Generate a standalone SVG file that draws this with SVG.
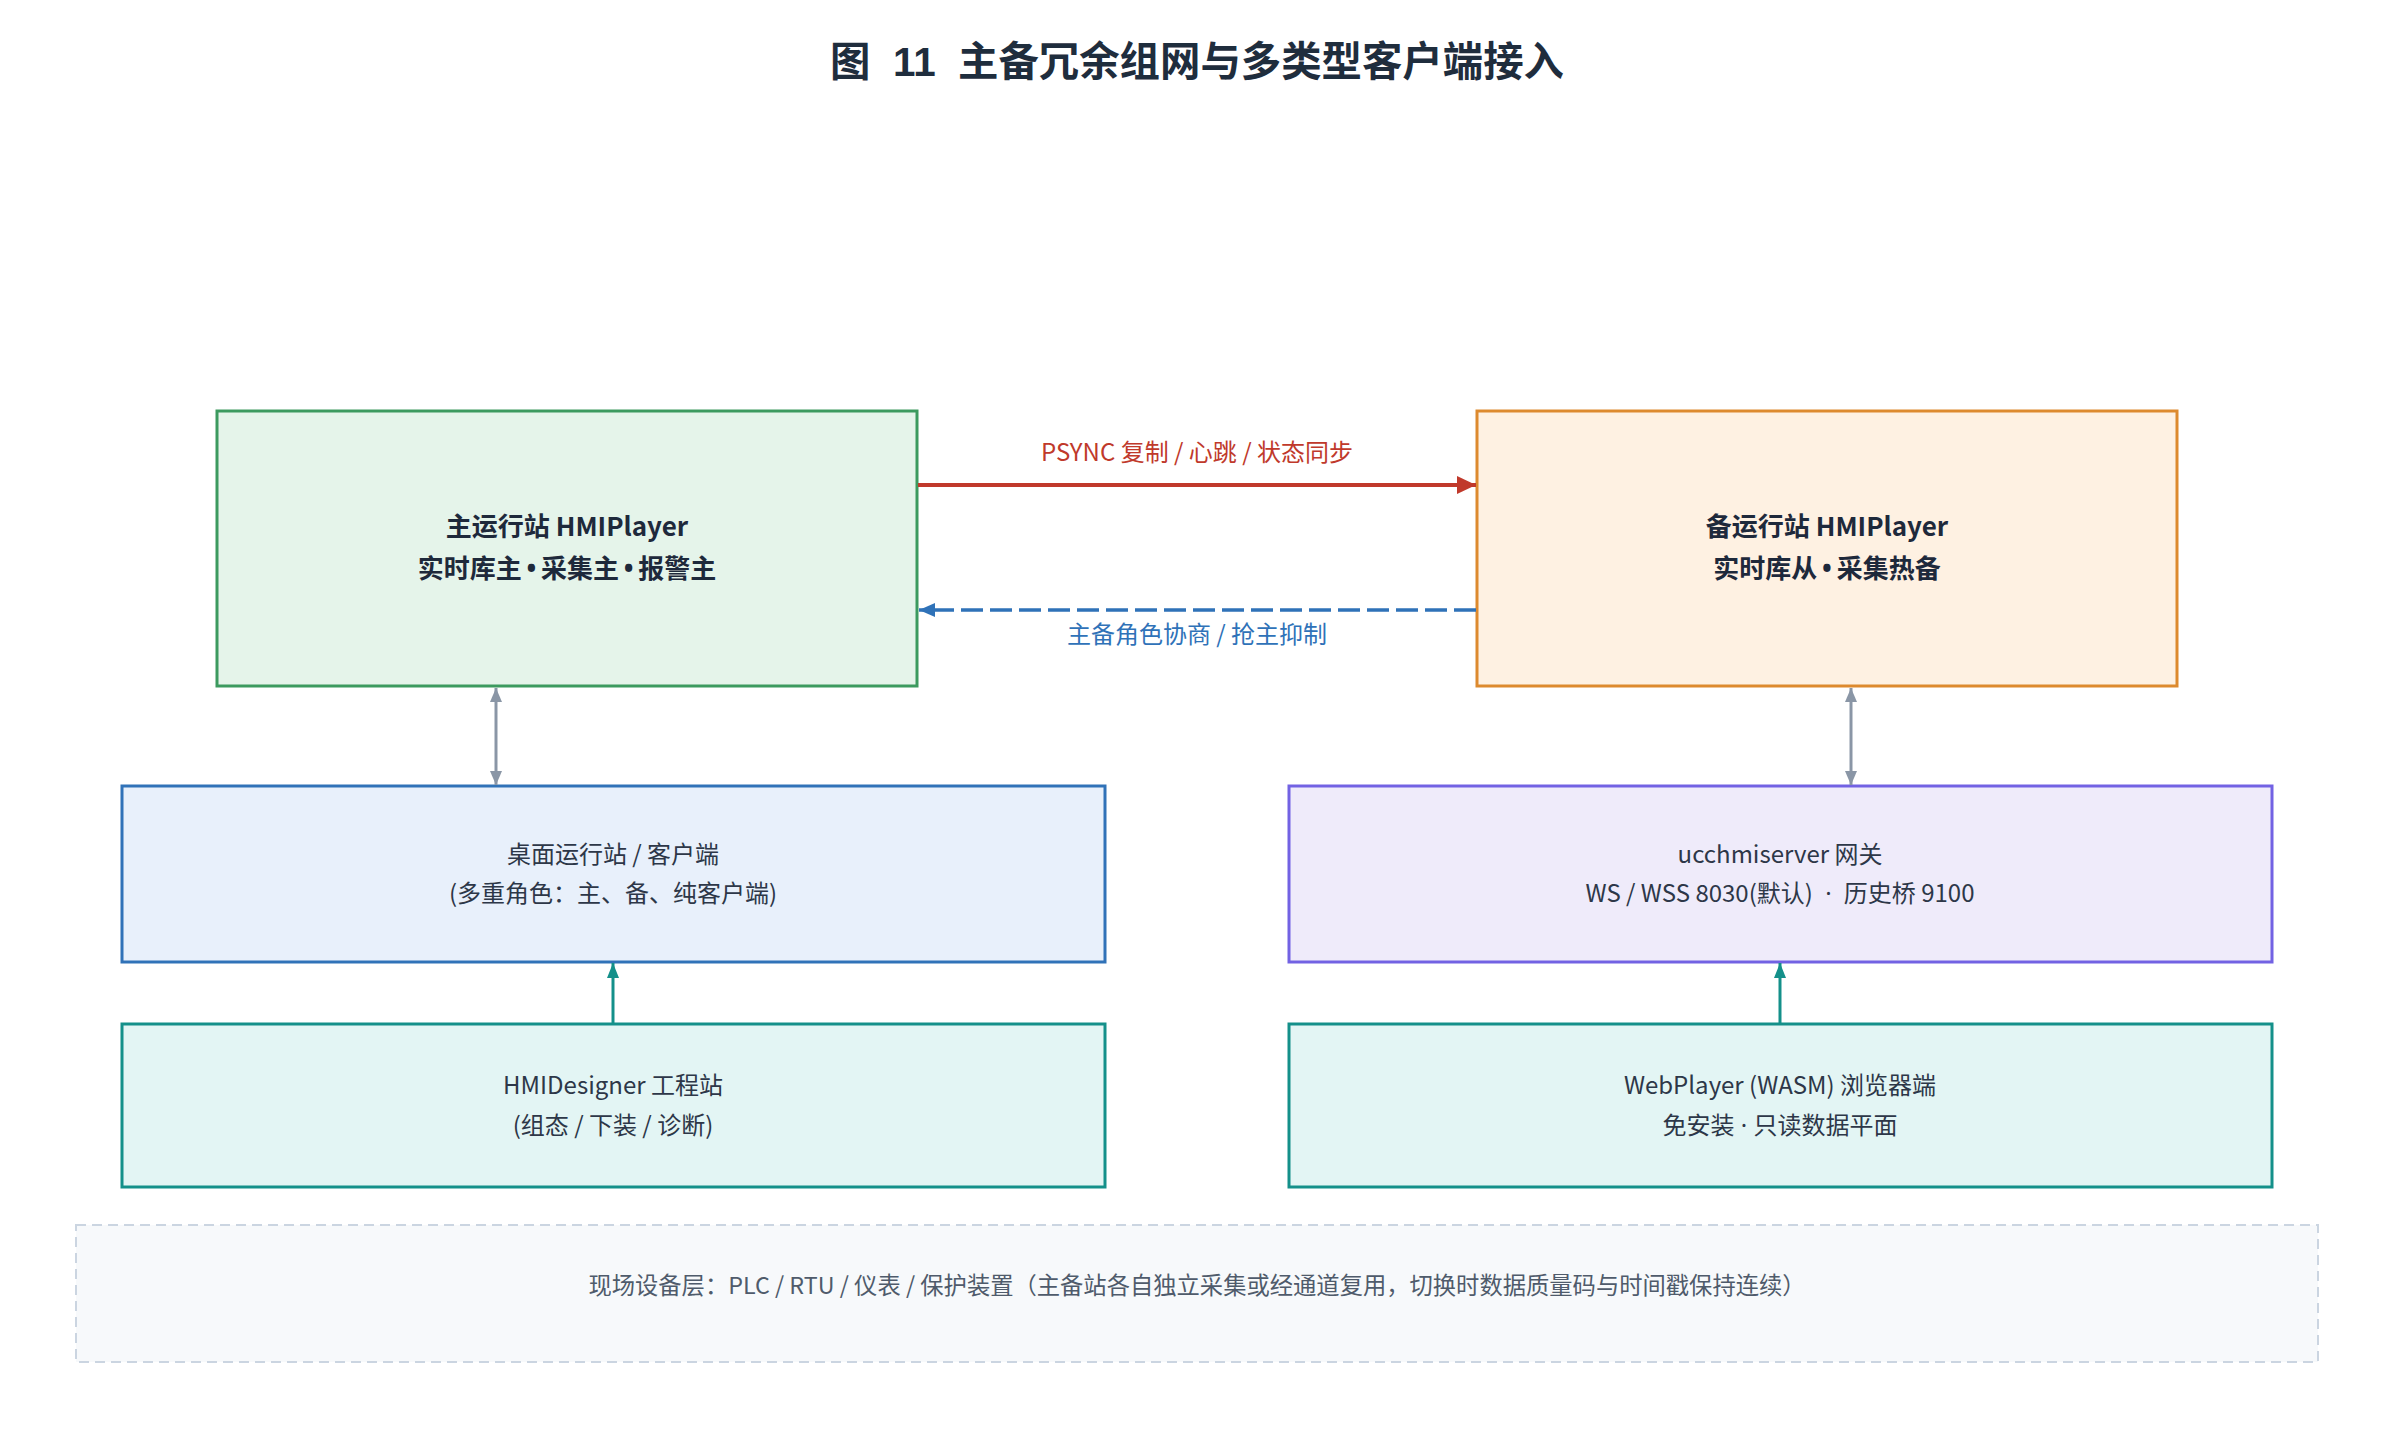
<svg xmlns="http://www.w3.org/2000/svg" width="2394" height="1434" viewBox="0 0 2394 1434">
<style>
  text { font-family: "Noto Sans CJK SC", "Noto Sans", sans-serif; }
  .title { font-family: "Liberation Sans", "Noto Sans CJK SC", sans-serif; font-size: 40.4px; font-weight: 700; fill: #1f2d3d; }
  .main { font-size: 26px; font-weight: 700; fill: #1e293b; }
  .body { font-size: 24px; fill: #2d3748; }
  .foot { font-size: 23.3px; fill: #4f5b6b; }
  .lbl { font-size: 24px; }
  .dot { font-family: "Noto Sans", sans-serif; }
  .box { stroke-width: 3; }
</style>
<defs>
  <marker id="mRed" markerUnits="userSpaceOnUse" markerWidth="19" markerHeight="18" refX="19" refY="9" orient="auto">
    <path d="M0,0 L19,9 L0,18 z" fill="#c0392b"/>
  </marker>
  <marker id="mBlue" markerUnits="userSpaceOnUse" markerWidth="16" markerHeight="14" refX="16" refY="7" orient="auto">
    <path d="M0,0 L16,7 L0,14 z" fill="#2f72b8"/>
  </marker>
  <marker id="mGray" markerUnits="userSpaceOnUse" markerWidth="14" markerHeight="12" refX="14" refY="6" orient="auto-start-reverse">
    <path d="M0,0 L14,6 L0,12 z" fill="#8a96a6"/>
  </marker>
  <marker id="mTeal" markerUnits="userSpaceOnUse" markerWidth="15" markerHeight="12" refX="15" refY="6" orient="auto">
    <path d="M0,0 L15,6 L0,12 z" fill="#14908a"/>
  </marker>
</defs>
<rect width="2394" height="1434" fill="#ffffff"/>
<text class="title" x="1197" y="76" text-anchor="middle" xml:space="preserve">图  11  主备冗余组网与多类型客户端接入</text>

<g id="field-layer">
  <rect x="76" y="1225" width="2242" height="137" fill="#f7f9fb" stroke="#cbd5e1" stroke-width="2" stroke-dasharray="10 6"/>
  <text class="foot" x="1197" y="1294" text-anchor="middle">现场设备层：PLC / RTU / 仪表 / 保护装置（主备站各自独立采集或经通道复用，切换时数据质量码与时间戳保持连续）</text>
</g>

<g id="primary">
  <rect class="box" x="217" y="411" width="700" height="275" fill="#e5f4ea" stroke="#3c9a5f"/>
  <text class="main" x="567" y="536" text-anchor="middle">主运行站 HMIPlayer</text>
  <text class="main" x="567" y="578" text-anchor="middle" xml:space="preserve">实时库主<tspan class="dot" dx="-2"> • </tspan><tspan dx="-2">采集主</tspan><tspan class="dot" dx="-2"> • </tspan><tspan dx="-2">报警主</tspan></text>
</g>

<g id="standby">
  <rect class="box" x="1477" y="411" width="700" height="275" fill="#fef1e2" stroke="#dd8a2e"/>
  <text class="main" x="1827" y="536" text-anchor="middle">备运行站 HMIPlayer</text>
  <text class="main" x="1827" y="578" text-anchor="middle" xml:space="preserve">实时库从<tspan class="dot" dx="-2"> • </tspan><tspan dx="-2">采集热备</tspan></text>
</g>

<g id="desktop">
  <rect class="box" x="122" y="786" width="983" height="176" fill="#e8f0fb" stroke="#3072b8"/>
  <text class="body" x="613" y="863" text-anchor="middle">桌面运行站 / 客户端</text>
  <text class="body" x="613" y="902" text-anchor="middle">(多重角色：主、备、纯客户端)</text>
</g>

<g id="gateway">
  <rect class="box" x="1289" y="786" width="983" height="176" fill="#efebfa" stroke="#7262e3"/>
  <text class="body" x="1780" y="863" text-anchor="middle">ucchmiserver 网关</text>
  <text class="body" x="1780" y="902" text-anchor="middle" xml:space="preserve">WS / WSS 8030(默认)<tspan class="dot" dx="6"> · </tspan><tspan dx="6">历史桥 9100</tspan></text>
</g>

<g id="designer">
  <rect class="box" x="122" y="1024" width="983" height="163" fill="#e3f5f4" stroke="#14908a"/>
  <text class="body" x="613" y="1094" text-anchor="middle">HMIDesigner 工程站</text>
  <text class="body" x="613" y="1134" text-anchor="middle">(组态 / 下装 / 诊断)</text>
</g>

<g id="webplayer">
  <rect class="box" x="1289" y="1024" width="983" height="163" fill="#e3f5f4" stroke="#14908a"/>
  <text class="body" x="1780" y="1094" text-anchor="middle">WebPlayer (WASM) 浏览器端</text>
  <text class="body" x="1780" y="1134" text-anchor="middle" xml:space="preserve">免安装<tspan class="dot"> · </tspan>只读数据平面</text>
</g>

<g id="connectors">
  <line x1="918" y1="485" x2="1476" y2="485" stroke="#c0392b" stroke-width="4" marker-end="url(#mRed)"/>
  <text class="lbl" x="1197" y="461" text-anchor="middle" fill="#c0392b">PSYNC 复制 / 心跳 / 状态同步</text>
  <line x1="1476" y1="610" x2="919" y2="610" stroke="#2f72b8" stroke-width="3.5" stroke-dasharray="22 7" marker-end="url(#mBlue)"/>
  <text class="lbl" x="1197" y="643" text-anchor="middle" fill="#2f72b8">主备角色协商 / 抢主抑制</text>
  <line x1="496" y1="688" x2="496" y2="785" stroke="#8a96a6" stroke-width="3" marker-start="url(#mGray)" marker-end="url(#mGray)"/>
  <line x1="1851" y1="688" x2="1851" y2="785" stroke="#8a96a6" stroke-width="3" marker-start="url(#mGray)" marker-end="url(#mGray)"/>
  <line x1="613" y1="1023" x2="613" y2="963" stroke="#14908a" stroke-width="3" marker-end="url(#mTeal)"/>
  <line x1="1780" y1="1023" x2="1780" y2="963" stroke="#14908a" stroke-width="3" marker-end="url(#mTeal)"/>
</g>
</svg>
